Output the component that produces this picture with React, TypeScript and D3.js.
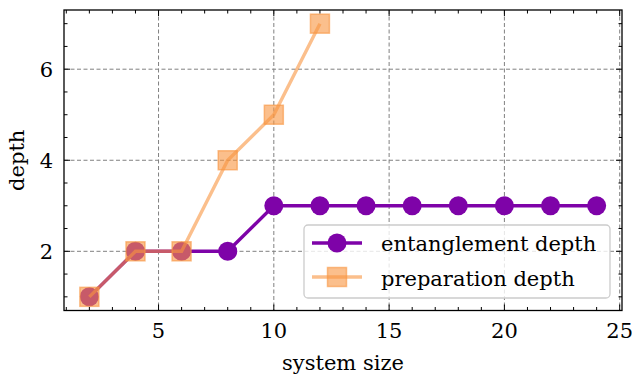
import React from "react";
import * as d3 from "d3";

const systemSize = [2, 4, 6, 8, 10, 12, 14, 16, 18, 20, 22, 24];
const entanglementDepth = [1, 2, 2, 2, 3, 3, 3, 3, 3, 3, 3, 3];
const prepSize = [2, 4, 6, 8, 10, 12];
const preparationDepth = [1, 2, 2, 4, 5, 7];
const xMajorTicks = [5, 10, 15, 20, 25];
const yMajorTicks = [2, 4, 6];

const W = 632;
const H = 377;
const M = { left: 64, right: 622, top: 10, bottom: 310.5 };
const PURPLE = "#7e03a8";
const ORANGE = "#f89540";
const FONT = "DejaVu Serif";
const FS = 21;

export default function App() {
  const x = d3.scaleLinear().domain([0.9, 25.1]).range([M.left, M.right]);
  const y = d3.scaleLinear().domain([0.7, 7.3]).range([M.bottom, M.top]);
  const xMinor = d3.range(1, 26, 1).filter((v) => !xMajorTicks.includes(v));
  const yMinor = d3.range(1, 7.01, 0.5).filter((v) => !yMajorTicks.includes(v));

  const line = d3
    .line<[number, number]>()
    .x((d) => x(d[0]))
    .y((d) => y(d[1]));
  const entPts: [number, number][] = systemSize.map((s, i) => [s, entanglementDepth[i]]);
  const prepPts: [number, number][] = prepSize.map((s, i) => [s, preparationDepth[i]]);

  const sq = 19;
  const lw = 3.4;
  const legX = 304;
  const legY = 225;

  const square = (cx: number, cy: number, key: string) => (
    <rect
      key={key}
      x={cx - sq / 2}
      y={cy - sq / 2}
      width={sq}
      height={sq}
      fill={ORANGE}
      fillOpacity={0.6}
      stroke={ORANGE}
      strokeOpacity={0.6}
      strokeWidth={1.5}
    />
  );

  return (
    <svg width={W} height={H} style={{ position: "absolute", left: 0, top: 0 }}>
      <rect width={W} height={H} fill="white" />
      {/* grid */}
      <g stroke="#808080" strokeWidth={1} strokeDasharray="4,2.5">
        {xMajorTicks.filter((t) => x(t) < M.right - 2).map((t) => (
          <line key={"gx" + t} x1={x(t)} x2={x(t)} y1={M.top} y2={M.bottom} />
        ))}
        {yMajorTicks.map((t) => (
          <line key={"gy" + t} x1={M.left} x2={M.right} y1={y(t)} y2={y(t)} />
        ))}
      </g>
      {/* entanglement depth */}
      <path d={line(entPts) || ""} fill="none" stroke={PURPLE} strokeWidth={lw} />
      {entPts.map((p, i) => (
        <circle key={"c" + i} cx={x(p[0])} cy={y(p[1])} r={9.5} fill={PURPLE} />
      ))}
      {/* preparation depth */}
      {prepPts.map((p, i) => square(x(p[0]), y(p[1]), "s" + i))}
      <path d={line(prepPts) || ""} fill="none" stroke={ORANGE} strokeOpacity={0.6} strokeWidth={lw} />
      {/* ticks */}
      <g stroke="black" strokeWidth={1}>
        {xMajorTicks.map((t) => (
          <g key={"xt" + t}>
            <line x1={x(t)} x2={x(t)} y1={M.bottom} y2={M.bottom - 6} />
            <line x1={x(t)} x2={x(t)} y1={M.top} y2={M.top + 6} />
          </g>
        ))}
        {xMinor.map((t) => (
          <g key={"xm" + t}>
            <line x1={x(t)} x2={x(t)} y1={M.bottom} y2={M.bottom - 3.5} />
            <line x1={x(t)} x2={x(t)} y1={M.top} y2={M.top + 3.5} />
          </g>
        ))}
        {yMajorTicks.map((t) => (
          <g key={"yt" + t}>
            <line x1={M.left} x2={M.left + 6} y1={y(t)} y2={y(t)} />
            <line x1={M.right} x2={M.right - 6} y1={y(t)} y2={y(t)} />
          </g>
        ))}
        {yMinor.map((t) => (
          <g key={"ym" + t}>
            <line x1={M.left} x2={M.left + 3.5} y1={y(t)} y2={y(t)} />
            <line x1={M.right} x2={M.right - 3.5} y1={y(t)} y2={y(t)} />
          </g>
        ))}
      </g>
      <rect
        x={M.left}
        y={M.top}
        width={M.right - M.left}
        height={M.bottom - M.top}
        fill="none"
        stroke="black"
        strokeWidth={1.3}
      />
      {/* tick labels */}
      <g fontFamily={FONT} fontSize={FS} fill="black">
        {xMajorTicks.map((t) => (
          <text key={"xl" + t} x={x(t)} y={338} textAnchor="middle">
            {t}
          </text>
        ))}
        {yMajorTicks.map((t) => (
          <text key={"yl" + t} x={M.left - 11} y={y(t) + 7.5} textAnchor="end">
            {t}
          </text>
        ))}
        <text x={(M.left + M.right) / 2} y={370} textAnchor="middle">
          system size
        </text>
        <text transform={`translate(24, ${(M.top + M.bottom) / 2}) rotate(-90)`} textAnchor="middle">
          depth
        </text>
      </g>
      {/* legend */}
      <g>
        <rect
          x={legX}
          y={legY}
          width={306}
          height={73}
          rx={4}
          fill="white"
          fillOpacity={0.8}
          stroke="#cccccc"
          strokeWidth={1.3}
        />
        <line x1={312} x2={362} y1={243} y2={243} stroke={PURPLE} strokeWidth={lw} />
        <circle cx={337} cy={243} r={9.5} fill={PURPLE} />
        {square(337, 277, "legsq")}
        <line x1={312} x2={362} y1={277} y2={277} stroke={ORANGE} strokeOpacity={0.6} strokeWidth={lw} />
        <g fontFamily={FONT} fontSize={FS} fill="black">
          <text x={381} y={251}>entanglement depth</text>
          <text x={381} y={286}>preparation depth</text>
        </g>
      </g>
    </svg>
  );
}
